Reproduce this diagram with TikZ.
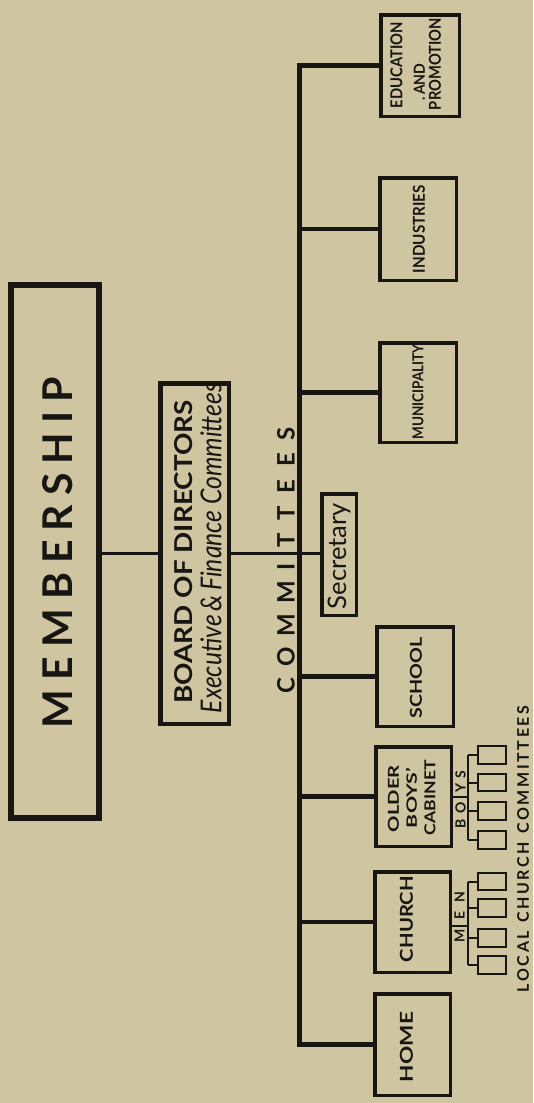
\documentclass[tikz,border=0pt]{standalone}
\usepackage{fontspec}
\setmainfont{Lato}
\usepackage{graphicx}
\definecolor{paper}{RGB}{207,198,161}
\definecolor{ink}{RGB}{24,22,18}
\newcommand\lsp[2]{\makebox[#1][s]{#2}}
\begin{document}
\begin{tikzpicture}[x=1pt,y=-1pt,
  every node/.style={inner sep=0pt, outer sep=0pt},
  box/.style={draw=ink, rectangle, line width=3.5pt},
  membox/.style={draw=ink, rectangle, line width=6pt},
  boardbox/.style={draw=ink, rectangle, line width=4.5pt},
  subbox/.style={draw=ink, rectangle, line width=2.3pt, minimum width=27.5pt, minimum height=17.5pt},
  lab/.style={rotate=90, text=ink},
  small/.style={rotate=90, text=ink, font=\fontsize{14}{14}\selectfont\bfseries},
  trunkline/.style={draw=ink, line width=5pt, line join=miter},
  armline/.style={draw=ink, line width=4.5pt},
  linkline/.style={draw=ink, line width=3pt},
  twig/.style={draw=ink, line width=2pt}]
\fill[paper] (0,0) rectangle (533,1103);
\useasboundingbox (0,0) rectangle (533,1103);

% main boxes
\node[membox, minimum width=88pt, minimum height=533pt] (mem) at (55,551.5) {};
\node[boardbox, minimum width=68.5pt, minimum height=340.5pt] (board) at (194.5,553.5) {};
\node[box, minimum width=34.5pt, minimum height=121.5pt] (sec) at (339,554.5) {};

% committee boxes
\node[box, minimum width=78.5pt, minimum height=101.5pt] (edu) at (420,65.5) {};
\node[box, minimum width=76.5pt, minimum height=102.5pt] (ind) at (418,229) {};
\node[box, minimum width=76.5pt, minimum height=99.5pt] (mun) at (418,392.5) {};
\node[box, minimum width=76.5pt, minimum height=99.5pt] (school) at (415,676.5) {};
\node[box, minimum width=75.5pt, minimum height=99.5pt] (ob) at (413.5,796.5) {};
\node[box, minimum width=75.5pt, minimum height=100.5pt] (church) at (412.5,922) {};
\node[box, minimum width=75.5pt, minimum height=101.5pt] (home) at (412.5,1044.5) {};

% trunk and arms
\coordinate (tx) at (299,0);
\draw[trunkline] (edu.west) -- (edu.west -| tx) -- (home.west -| tx) -- (home.west);
\foreach \n in {ind,mun,school,ob,church} \draw[armline] (\n.west -| tx) -- (\n.west);
\draw[linkline] (mem.east |- board.west) -- (board.west);
\draw[linkline] (board.east) -- (board.east -| sec.west);

% local church committee boxes (men)
\node[subbox] (c1) at (492,881.5) {};
\node[subbox] (c2) at (492,908) {};
\node[subbox] (c3) at (492,938) {};
\node[subbox] (c4) at (492,965) {};
\coordinate (cm) at (468,926);
\draw[twig] (church.east |- cm) -- (cm);
\draw[twig] (c1.west -| cm) -- (c4.west -| cm);
\foreach \n in {c1,c2,c3,c4} \draw[twig] (\n.west -| cm) -- (\n.west);

% local church committee boxes (boys)
\node[subbox] (b1) at (492,755) {};
\node[subbox] (b2) at (492,782.5) {};
\node[subbox] (b3) at (492,811) {};
\node[subbox] (b4) at (492,840) {};
\coordinate (bm) at (468,797);
\draw[twig] (ob.east |- bm) -- (bm);
\draw[twig] (b1.west -| bm) -- (b4.west -| bm);
\foreach \n in {b1,b2,b3,b4} \draw[twig] (\n.west -| bm) -- (\n.west);

% texts
\node[lab] (tmem) at (57.5,552.5) {\fontsize{41}{41}\selectfont\bfseries\lsp{351pt}{M\hfil E\hfil M\hfil B\hfil E\hfil R\hfil S\hfil H\hfil I\hfil P}};
\node[lab] (tboard) at (184,552) {\resizebox{303pt}{18pt}{\bfseries BOARD OF DIRECTORS}};
\node[lab] (texec) at (211,548) {\resizebox{330pt}{21pt}{\itshape Executive\,\&\,Finance Committees}};
\node[lab] (tsec) at (339,556) {\resizebox{106pt}{!}{\fontsize{18}{18}\selectfont Secretary}};
\node[lab] (tcom1) at (286,628) {\fontsize{24}{24}\selectfont\bfseries\lsp{130pt}{C\hfil O\hfil M\hfil M\hfil I}};
\node[lab] (tcom2) at (286,487) {\fontsize{24}{24}\selectfont\bfseries\lsp{120pt}{T\hfil T\hfil E\hfil E\hfil S}};

\node[lab] (tedu1) at (396.5,65) {\resizebox{86pt}{12pt}{\bfseries EDUCATION}};
\node[lab] (tedu2) at (419.5,82) {\resizebox{37pt}{11pt}{\bfseries .\,AND}};
\node[lab] (tedu3) at (435,64) {\resizebox{92pt}{12pt}{\bfseries PROMOTION}};
\node[lab] (tind) at (419,229) {\resizebox{88pt}{12pt}{\bfseries INDUSTRIES}};
\node[lab] (tmun) at (418,392) {\resizebox{95pt}{11pt}{\bfseries MUNICIPALITY}};
\node[lab] (tsch) at (416,677.5) {\resizebox{81pt}{12pt}{\bfseries SCHOOL}};
\node[lab] (tob1) at (393.5,798.5) {\resizebox{67pt}{11pt}{\bfseries OLDER}};
\node[lab] (tob2) at (411.5,798) {\resizebox{60pt}{11pt}{\bfseries BOYS'}};
\node[lab] (tob3) at (430,797.5) {\resizebox{75pt}{11pt}{\bfseries CABINET}};
\node[lab] (tch) at (406.5,919) {\resizebox{86pt}{13pt}{\bfseries CHURCH}};
\node[lab] (thome) at (406.5,1047) {\resizebox{70pt}{13pt}{\bfseries HOME}};

\node[small] (lm1) at (459.5,936) {M};
\node[small] (lm2) at (459.5,915) {E};
\node[small] (lm3) at (459.5,897.5) {N};
\node[small] (lb1) at (460.5,823.5) {B};
\node[small] (lb2) at (460.5,808) {O};
\node[small] (lb3) at (460.5,787.5) {Y};
\node[small] (lb4) at (460.5,775) {S};

\node[lab] (tlocal) at (523,849) {\fontsize{16}{16}\selectfont\bfseries\lsp{287pt}{L\hfil O\hfil C\hfil A\hfil L\hfil\hfil\hfil C\hfil H\hfil U\hfil R\hfil C\hfil H\hfil\hfil\hfil C\hfil O\hfil M\hfil M\hfil I\hfil T\hfil T\hfil E\hfil E\hfil S}};
\end{tikzpicture}
\end{document}
